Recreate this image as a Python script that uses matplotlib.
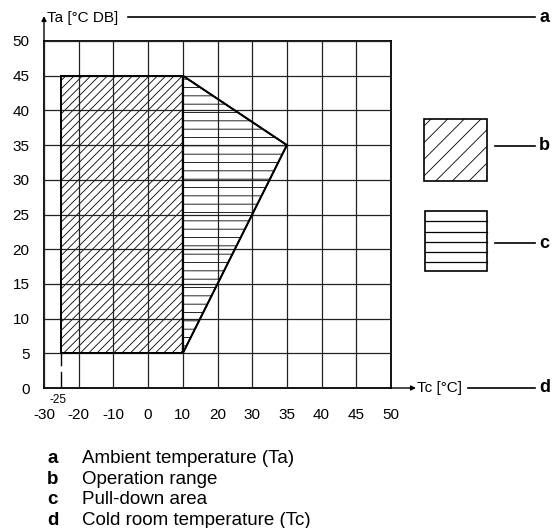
import numpy as np
import matplotlib
matplotlib.use('Agg')
import matplotlib.pyplot as plt
from matplotlib.patches import Polygon, Rectangle
from matplotlib.lines import Line2D

plt.rcParams['font.family'] = ['Liberation Sans', 'DejaVu Sans']
plt.rcParams['hatch.linewidth'] = 0.6

# ---- data ----
x_tick_values = [-30, -20, -10, 0, 10, 20, 30, 35, 40, 45, 50]
x_tick_labels = ['-30', '-20', '-10', '0', '10', '20', '30', '35', '40', '45', '50']
y_tick_values = [0, 5, 10, 15, 20, 25, 30, 35, 40, 45, 50]
extra_x_tick = -25
operation_tc = [-25, 10, 10, -25]
operation_ta = [5, 5, 45, 45]
pulldown_tc = [10, 35, 10]
pulldown_ta = [45, 35, 5]
x_axis_title = 'Tc [°C]'
y_axis_title = 'Ta [°C DB]'
key_letters = ['a', 'b', 'c', 'd']
key_texts = ['Ambient temperature (Ta)', 'Operation range', 'Pull-down area',
             'Cold room temperature (Tc)']

W, H = 554, 528
fig = plt.figure(figsize=(W / 100, H / 100), dpi=100)
fig.patch.set_facecolor('white')


def fx(px):
    return px / W


def fy(py):
    return 1 - py / H


ax = fig.add_axes([fx(44), fy(388), 347 / W, 347 / H])
idx = np.arange(len(x_tick_values))


def pos(v):
    return np.interp(v, x_tick_values, idx)


ax.set_xlim(0, len(x_tick_values) - 1)
ax.set_ylim(y_tick_values[0], y_tick_values[-1])
ax.set_xticks(idx)
ax.set_xticklabels(x_tick_labels)
ax.set_yticks(y_tick_values)
ax.tick_params(axis='x', length=0, pad=14.5, labelsize=11)
ax.tick_params(axis='y', length=0, pad=10.5, labelsize=11)
ax.set_axisbelow(False)
ax.grid(True, color='#222222', lw=0.9)
for s in ax.spines.values():
    s.set_linewidth(1.3)
    s.set_color('black')

op = Polygon(np.column_stack([pos(operation_tc), operation_ta]), closed=True,
             facecolor='white', edgecolor='black', hatch='////', lw=1.3, zorder=1)
ax.add_patch(op)
pd_ = Polygon(np.column_stack([pos(pulldown_tc), pulldown_ta]), closed=True,
              facecolor='white', edgecolor='black', hatch='--', lw=1.3, zorder=1)
ax.add_patch(pd_)
# re-draw outlines above grid
for xs, ys in [(operation_tc, operation_ta), (pulldown_tc, pulldown_ta)]:
    ax.add_patch(Polygon(np.column_stack([pos(xs), ys]), closed=True, fill=False,
                         edgecolor='black', lw=1.3, zorder=3))

# extra -25 marker line below the operation range
ax.plot([pos(extra_x_tick)] * 2, [y_tick_values[0], operation_ta[0]], color='black',
        lw=1.0, dashes=(12, 4), zorder=3)
ax.annotate(str(extra_x_tick), xy=(pos(extra_x_tick), 0), xycoords='data',
            xytext=(-3, -12), textcoords='offset pixels', ha='center', va='center',
            fontsize=8.5, annotation_clip=False)

# axis arrows
arrowprops = dict(arrowstyle='-|>', lw=1.0, color='black', mutation_scale=7,
                  shrinkA=0, shrinkB=0)
ax.annotate('', xy=(0, 1 + 25 / 347), xycoords='axes fraction', xytext=(0, 1),
            textcoords='axes fraction', arrowprops=arrowprops, annotation_clip=False)
ax.annotate('', xy=(1 + 25 / 347, 0), xycoords='axes fraction', xytext=(1, 0),
            textcoords='axes fraction', arrowprops=arrowprops, annotation_clip=False)

# axis titles with leader lines
fig.text(fx(47), fy(18), y_axis_title, ha='left', va='center', fontsize=11)
fig.add_artist(Line2D([fx(128), fx(535)], [fy(17), fy(17)], color='black', lw=1.2))
fig.text(fx(417), fy(388), x_axis_title, ha='left', va='center', fontsize=11)
fig.add_artist(Line2D([fx(468), fx(535)], [fy(388), fy(388)], color='black', lw=1.2))

# key boxes
fig.add_artist(Rectangle((fx(424), fy(181)), 63 / W, 62 / H, transform=fig.transFigure,
                         facecolor='white', edgecolor='black', hatch='//', lw=1.2))
fig.add_artist(Rectangle((fx(425), fy(271)), 62 / W, 60 / H, transform=fig.transFigure,
                         facecolor='white', edgecolor='black', lw=1.2))
for yy in np.linspace(211, 271, 7)[1:-1]:
    fig.add_artist(Line2D([fx(425), fx(487)], [fy(yy + 0.5), fy(yy + 0.5)],
                          color='black', lw=0.9))
fig.add_artist(Line2D([fx(495), fx(535)], [fy(146), fy(146)], color='black', lw=1.2))
fig.add_artist(Line2D([fx(495), fx(535)], [fy(243), fy(243)], color='black', lw=1.2))

# key letters on the right
for letter, py in zip(['a', 'b', 'c', 'd'], [17, 146, 243, 388]):
    fig.text(fx(539), fy(py), letter, ha='left', va='center', fontsize=13,
             fontweight='bold')

# key list at bottom
for i, (letter, txt) in enumerate(zip(key_letters, key_texts)):
    yb = 463 + i * 20.7
    fig.text(fx(47), fy(yb), letter, ha='left', va='baseline', fontsize=13.5,
             fontweight='bold')
    fig.text(fx(82), fy(yb), txt, ha='left', va='baseline', fontsize=13.5)

fig.savefig('out.png', dpi=100)
